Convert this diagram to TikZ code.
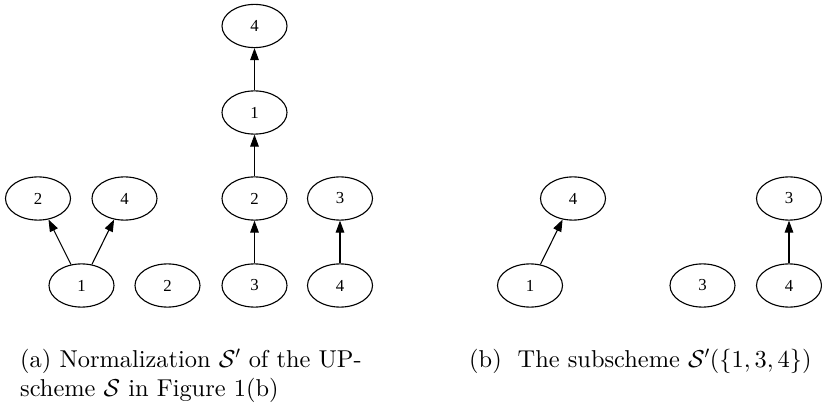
\documentclass[tikz,border=0pt]{standalone}
\usepackage{fix-cm}
\usepackage{fontspec}
\newfontfamily\gvfont{Liberation Serif}
\newfontfamily\capfont{lmroman10-regular.otf}
\DeclareFontShape{OT1}{cmr}{m}{n}{<->cmr10}{}
\DeclareFontShape{OML}{cmm}{m}{it}{<->cmmi10}{}
\usetikzlibrary{shapes.geometric,arrows.meta}
\begin{document}
\begin{tikzpicture}[x=1pt,y=-1pt,
  gv/.style={draw, ellipse, line width=1.1pt, minimum width=65pt, minimum height=43.2pt, inner sep=0pt,
    font=\gvfont\fontsize{16.8}{20}\selectfont},
  gvedge/.style={draw, line width=1.1pt, -{Triangle[length=12pt,width=8.6pt]}},
  captext/.style={anchor=base west, inner sep=0pt, font=\capfont\fontsize{24.4}{29.3}\selectfont}]
\useasboundingbox (0,0) rectangle (822,406);
% subfigure (a)
\node[gv] (a2) at (38,198.5) {2};
\node[gv] (a4) at (124.5,198.5) {4};
\node[gv] (a1) at (81.5,285.5) {1};
\node[gv] (a2b) at (167.5,285.5) {2};
\node[gv] (b4) at (254.5,26) {4};
\node[gv] (b1) at (254.5,112.5) {1};
\node[gv] (b2) at (254.5,198.5) {2};
\node[gv] (b3) at (254.5,285.5) {3};
\node[gv] (c3) at (340,198.5) {3};
\node[gv] (c4) at (340,285.5) {4};
\draw[gvedge] (a1) -- (a2);
\draw[gvedge] (a1) -- (a4);
\draw[gvedge] (b1) -- (b4);
\draw[gvedge] (b2) -- (b1);
\draw[gvedge] (b3) -- (b2);
\draw[gvedge] (c4) -- (c3);
% subfigure (b)
\node[gv] (d4) at (573,198.5) {4};
\node[gv] (d1) at (530,285.5) {1};
\node[gv] (e3b) at (702.5,285.5) {3};
\node[gv] (e3) at (789,198.5) {3};
\node[gv] (e4) at (789,285.5) {4};
\draw[gvedge] (d1) -- (d4);
\draw[gvedge] (e4) -- (e3);
% captions
\node[captext] (capa1) at (20,367.3) {(a) Normalization $\mathcal{S}'$ of the UP-};
\node[captext] (capa2) at (20,396.6) {scheme $\mathcal{S}$ in Figure 1(b)};
\node[captext] (capb) at (469,367.3) {(b)\hspace{16pt}The subscheme $\mathcal{S}'(\{1,3,4\})$};
\end{tikzpicture}
\end{document}
